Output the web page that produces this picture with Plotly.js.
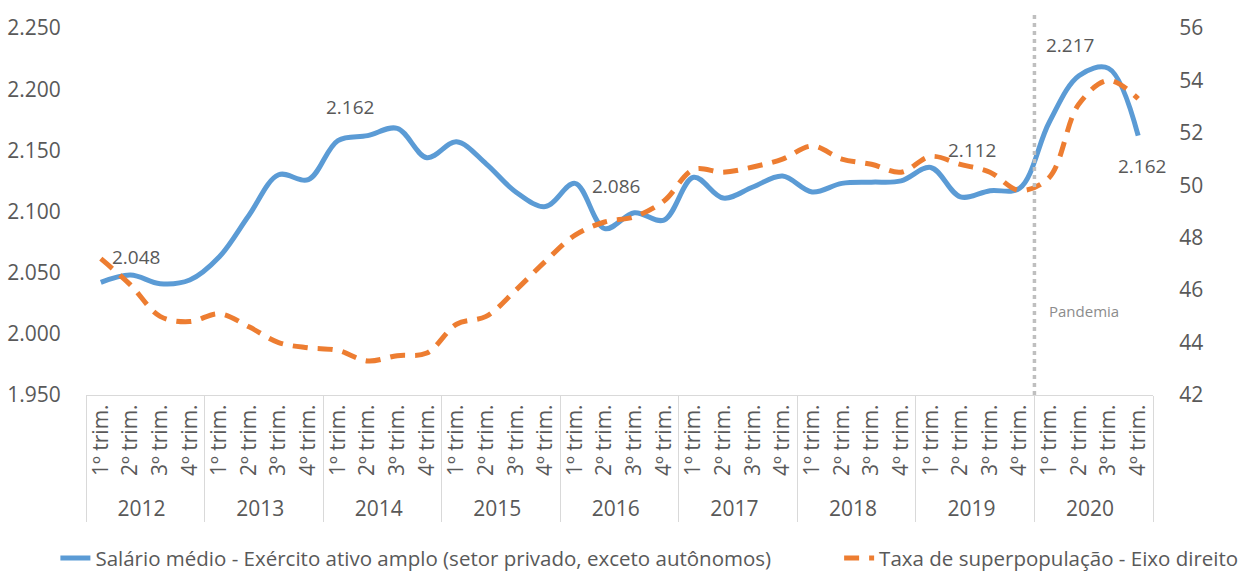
<!DOCTYPE html>
<html>
<head>
<meta charset="utf-8">
<script src="https://cdn.plot.ly/plotly-3.0.1.min.js"></script>
<style>
  html, body { margin: 0; padding: 0; background: #ffffff; }
  #chart { width: 1259px; height: 572px; }
</style>
</head>
<body>
<div id="chart"></div>
<script>
// ---- data ----
const years = ['2012', '2013', '2014', '2015', '2016', '2017', '2018', '2019', '2020'];
const quarters = ['1º trim.', '2º trim.', '3º trim.', '4º trim.'];

// Salário médio (R$), left axis
const salario = [
  2042, 2048, 2041, 2044,
  2063, 2097, 2130, 2126,
  2158, 2162, 2168, 2144,
  2157, 2139, 2116, 2104,
  2123, 2086, 2099, 2093,
  2128, 2111, 2120, 2129,
  2116, 2123, 2124, 2125,
  2136, 2112, 2117, 2119,
  2173, 2211, 2217, 2162
];

// Taxa de superpopulação (%), right axis
const taxa = [
  47.2, 46.2, 45.0, 44.8,
  45.1, 44.6, 44.0, 43.8,
  43.7, 43.3, 43.5, 43.6,
  44.7, 45.0, 46.0, 47.1,
  48.1, 48.6, 48.8, 49.4,
  50.6, 50.5, 50.7, 51.0,
  51.5, 51.0, 50.8, 50.5,
  51.1, 50.8, 50.5, 49.8,
  50.3, 53.1, 54.0, 53.3
];

// points with a data label (salário)
const labelYears = ['2012', '2014', '2016', '2019', '2020', '2020'];
const labelQuarters = ['2º trim.', '2º trim.', '2º trim.', '2º trim.', '3º trim.', '4º trim.'];

const seriesNames = [
  'Salário médio - Exército ativo amplo (setor privado, exceto autônomos)',
  'Taxa de superpopulação - Eixo direito'
];
const eventYear = '2020';
const eventQuarter = '1º trim.';
const eventLabel = 'Pandemia';

// ---- build category arrays ----
const xYears = [];
const xQuarters = [];
years.forEach(y => quarters.forEach(q => { xYears.push(y); xQuarters.push(q); }));
const n = xYears.length;
function idxOf(y, q) {
  for (let i = 0; i < n; i++) if (xYears[i] === y && xQuarters[i] === q) return i;
  return -1;
}
function fmtBR(v) {
  return String(Math.round(v)).replace(/\B(?=(\d{3})+(?!\d))/g, '.');
}

// ---- styles ----
const textColor = '#595959';
const fontFam = '"Open Sans", "Noto Sans", sans-serif';
const labelShifts = [[6, 18], [-18, 29], [11, 43], [12, 47], [-39, 23], [4, -30]];

const traces = [
  {
    x: [xYears, xQuarters],
    y: salario,
    name: seriesNames[0],
    type: 'scatter',
    mode: 'lines',
    line: { color: '#5b9bd5', width: 5, shape: 'spline', smoothing: 1 },
    yaxis: 'y',
    legend: 'legend'
  },
  {
    x: [xYears, xQuarters],
    y: taxa,
    name: seriesNames[1],
    type: 'scatter',
    mode: 'lines',
    line: { color: '#ed7d31', width: 5, shape: 'spline', smoothing: 1, dash: '15px,10px' },
    yaxis: 'y2',
    legend: 'legend2'
  }
];

const annotations = labelYears.map((y, k) => {
  const i = idxOf(y, labelQuarters[k]);
  return {
    x: i, y: salario[i], xref: 'x', yref: 'y',
    text: fmtBR(salario[i]),
    showarrow: false,
    xshift: labelShifts[k][0], yshift: labelShifts[k][1],
    font: { family: fontFam, size: 19, color: textColor }
  };
});

const evIdx = idxOf(eventYear, eventQuarter) - 0.5;
annotations.push({
  x: evIdx, y: 0.196, xref: 'x', yref: 'paper',
  text: eventLabel, showarrow: false, xanchor: 'left', xshift: 13,
  font: { family: fontFam, size: 15, color: '#8c8c8c' }
});

const legendFont = { family: fontFam, size: 20.5, color: textColor };

const layout = {
  width: 1259, height: 572,
  margin: { l: 86, r: 106, t: 28, b: 177 },
  paper_bgcolor: '#ffffff', plot_bgcolor: '#ffffff',
  separators: ',.',
  showlegend: true,
  hovermode: false,
  font: { family: fontFam, color: textColor },
  legend: {
    orientation: 'h', xref: 'container', yref: 'container',
    x: 0.044, xanchor: 'left', y: 0.024, yanchor: 'middle',
    font: legendFont, bgcolor: 'rgba(0,0,0,0)'
  },
  legend2: {
    orientation: 'h', xref: 'container', yref: 'container',
    x: 0.6665, xanchor: 'left', y: 0.024, yanchor: 'middle',
    font: legendFont, bgcolor: 'rgba(0,0,0,0)'
  },
  xaxis: {
    type: 'multicategory',
    range: [-0.5, n - 0.5],
    automargin: false,
    tickangle: -90,
    tickfont: { family: fontFam, size: 21, color: textColor },
    showline: true, linecolor: '#d9d9d9', linewidth: 1,
    showdividers: true, dividercolor: '#d9d9d9', dividerwidth: 1,
    showgrid: false, zeroline: false, ticks: ''
  },
  yaxis: {
    range: [1950, 2250], tick0: 1950, dtick: 50, tickformat: ',.0f',
    automargin: false,
    showgrid: false, zeroline: false, showline: false,
    ticks: 'outside', ticklen: 20, tickcolor: 'rgba(0,0,0,0)',
    tickfont: { family: fontFam, size: 21, color: textColor }
  },
  yaxis2: {
    overlaying: 'y', side: 'right',
    range: [42, 56], tick0: 42, dtick: 2,
    automargin: false,
    showgrid: false, zeroline: false, showline: false,
    ticks: 'outside', ticklen: 21, tickcolor: 'rgba(0,0,0,0)',
    tickfont: { family: fontFam, size: 21, color: textColor }
  },
  shapes: [{
    type: 'line', xref: 'x', yref: 'paper',
    x0: evIdx, x1: evIdx, y0: 0, y1: 1.04,
    line: { color: '#bfbfbf', width: 3.5, dash: '4px,4px' }
  }],
  annotations: annotations
};

Plotly.newPlot('chart', traces, layout, { displayModeBar: false, staticPlot: true });
</script>
</body>
</html>
